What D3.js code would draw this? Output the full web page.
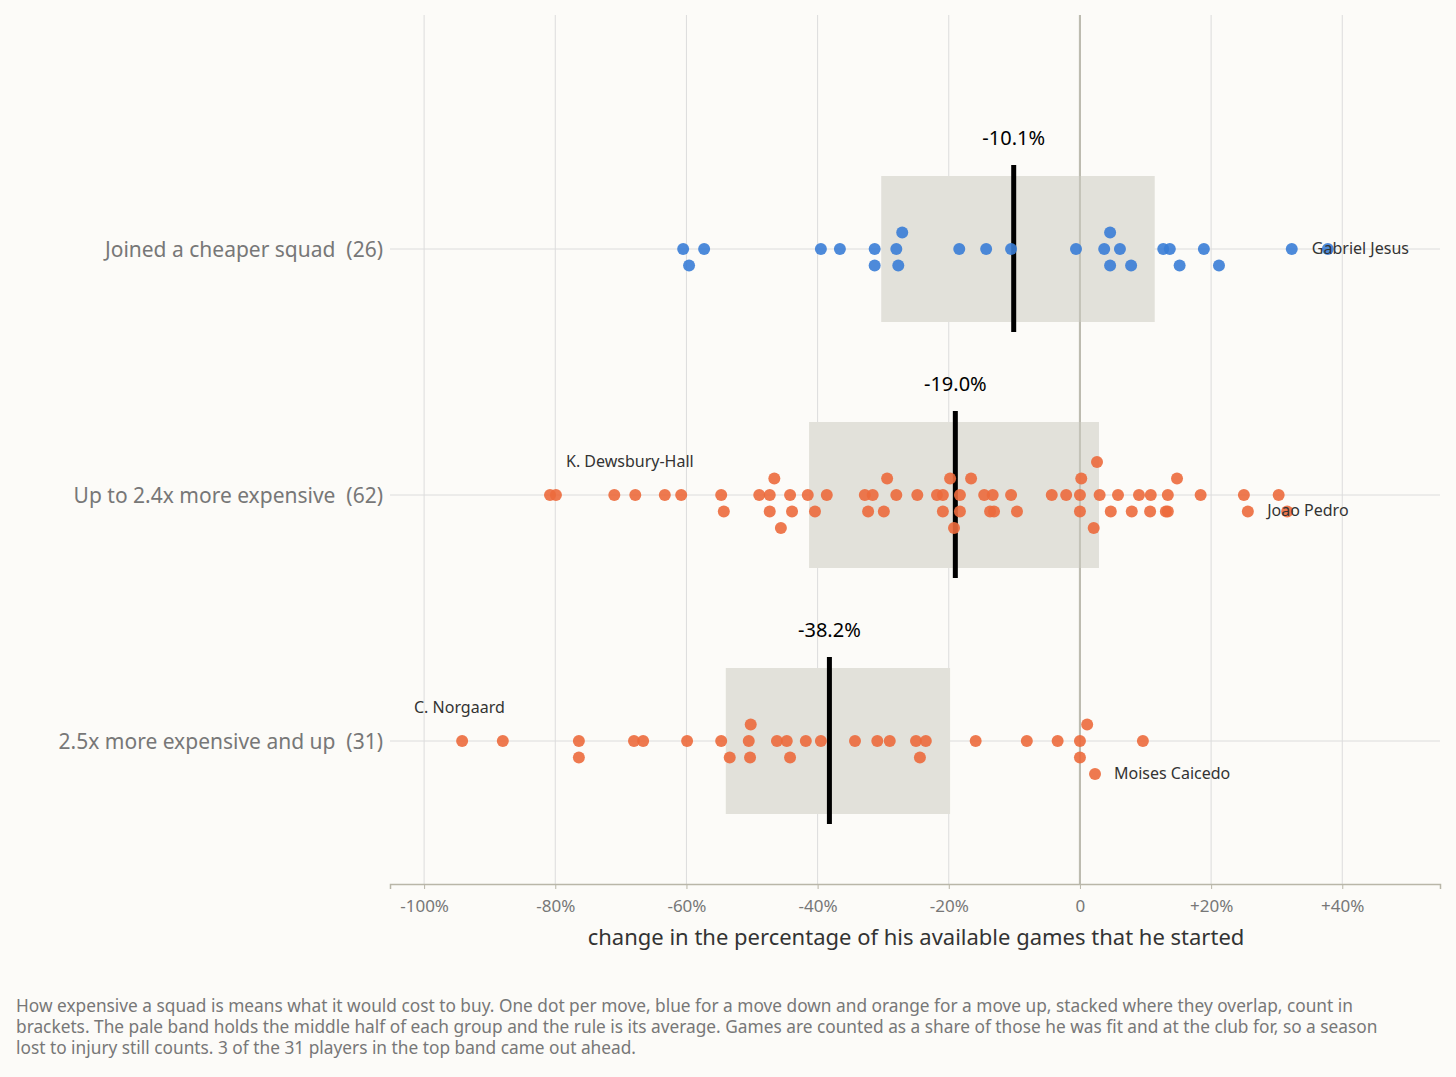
<!DOCTYPE html>
<html><head><meta charset="utf-8">
<script src="https://cdn.jsdelivr.net/npm/d3@7"></script>
<style>body{margin:0;background:#fcfbf8;font-family:"Noto Sans","Open Sans",sans-serif} text{white-space:pre}</style>
</head><body><svg id="c" width="1456" height="1077"></svg>
<script>
const groups = ["Joined a cheaper squad  (26)", "Up to 2.4x more expensive  (62)", "2.5x more expensive and up  (31)"];
const groupColors = ["#3a7dd6", "#ec6a3c", "#ec6a3c"];
const means = [-10.1, -19.0, -38.2];
const q1 = [-30.3, -41.3, -54.0];
const q3 = [11.4, 2.9, -19.8];
// [value, stack lane] : lane 0 on the line, negative above, positive below
const g0 = [[-60.5,0],[-57.3,0],[-39.5,0],[-36.6,0],[-31.3,0],[-28.0,0],[-18.4,0],[-14.3,0],[-10.5,0],[-0.6,0],[3.7,0],[6.1,0],[12.7,0],[13.7,0],[18.9,0],[32.3,0],[37.8,0],
 [-27.1,-1],[4.6,-1],
 [-59.6,1],[-31.3,1],[-27.7,1],[4.6,1],[7.8,1],[15.2,1],[21.2,1]];
const g1 = [[-80.8,0],[-79.9,0],[-71.0,0],[-67.8,0],[-63.3,0],[-60.8,0],[-54.7,0],[-48.9,0],[-47.3,0],[-44.2,0],[-41.5,0],[-38.6,0],[-32.8,0],[-31.6,0],[-28.0,0],[-24.8,0],[-21.8,0],[-20.9,0],[-18.3,0],[-14.6,0],[-13.3,0],[-10.5,0],[-4.3,0],[-2.1,0],[0,0],[3.0,0],[5.8,0],[9.0,0],[10.8,0],[13.4,0],[18.4,0],[25.0,0],[30.3,0],
 [-46.6,-1],[-29.4,-1],[-19.8,-1],[-16.6,-1],[0.2,-1],[14.8,-1],[2.6,-2],
 [-54.3,1],[-47.3,1],[-43.9,1],[-40.4,1],[-32.3,1],[-29.9,1],[-20.9,1],[-18.3,1],[-13.7,1],[-13.1,1],[-9.6,1],[0,1],[4.7,1],[7.9,1],[10.7,1],[13.1,1],[13.4,1],[25.6,1],[31.6,1],
 [-45.6,2],[-19.2,2],[2.1,2]];
const g2 = [[-94.2,0],[-88.0,0],[-76.4,0],[-68.0,0],[-66.6,0],[-59.9,0],[-54.7,0],[-50.5,0],[-46.2,0],[-44.7,0],[-41.8,0],[-39.5,0],[-34.3,0],[-30.9,0],[-29.0,0],[-25.0,0],[-23.5,0],[-15.9,0],[-8.1,0],[-3.4,0],[0,0],[9.6,0],
 [-50.2,-1],[1.1,-1],
 [-76.4,1],[-53.4,1],[-50.3,1],[-44.2,1],[-24.4,1],[0,1],[2.3,2]];
const groupData = [g0, g1, g2];
const names = ["Gabriel Jesus","K. Dewsbury-Hall","Joao Pedro","C. Norgaard","Moises Caicedo"];
const nameGroup = [0,1,1,2,2];
const ticks = [-100,-80,-60,-40,-20,0,20,40];
const tickLabels = ["-100%","-80%","-60%","-40%","-20%","0","+20%","+40%"];

const svg = d3.select("#c");
svg.append("rect").attr("width",1456).attr("height",1077).attr("fill","#fcfbf8");
const x = d3.scaleLinear().domain([-105.2, 54.9]).range([390, 1440]);
const y = d3.scalePoint().domain(d3.range(3)).range([249, 741]);
const lane = 16.5;

svg.append("g").selectAll("line").data(ticks).join("line")
  .attr("x1",d=>x(d)).attr("x2",d=>x(d)).attr("y1",15).attr("y2",884)
  .attr("stroke",d=>d===0?"#bdbcb0":"#dcdcdc").attr("stroke-width",d=>d===0?2:1);
svg.append("g").selectAll("line").data(d3.range(3)).join("line")
  .attr("x1",390).attr("x2",1440).attr("y1",d=>y(d)).attr("y2",d=>y(d)).attr("stroke","#dcdcdc");

svg.append("g").selectAll("rect").data(d3.range(3)).join("rect")
  .attr("x",i=>x(q1[i])).attr("width",i=>x(q3[i])-x(q1[i]))
  .attr("y",i=>y(i)-73).attr("height",146).attr("fill","#e2e1da");
svg.append("line").attr("x1",x(0)).attr("x2",x(0)).attr("y1",15).attr("y2",884).attr("stroke","#bdbcb0").attr("stroke-width",2).attr("opacity",0.8);

svg.append("g").selectAll("line").data(d3.range(3)).join("line")
  .attr("x1",i=>x(means[i])).attr("x2",i=>x(means[i])).attr("y1",i=>y(i)-84).attr("y2",i=>y(i)+83)
  .attr("stroke","#000").attr("stroke-width",5);
svg.append("g").selectAll("text").data(d3.range(3)).join("text")
  .attr("x",i=>x(means[i])).attr("y",i=>y(i)-104).attr("text-anchor","middle")
  .attr("font-size",20).attr("fill","#000").text(i=>means[i].toFixed(1)+"%");

groupData.forEach((arr,i)=>{
  svg.append("g").selectAll("circle").data(arr).join("circle")
    .attr("cx",d=>x(d[0])).attr("cy",d=>y(i)+d[1]*lane).attr("r",6)
    .attr("fill",groupColors[i]).attr("opacity",0.9);
});

// name label anchors: [x, y] in pixel terms relative to group row
const nameX = [x(37.8)-16, 566, x(31.6)-20, 414, x(2.3)+19];
const nameDY = [5, -28, 21, -28, 38];
svg.append("g").selectAll("text").data(names).join("text")
  .attr("x",(d,i)=>nameX[i]).attr("y",(d,i)=>y(nameGroup[i])+nameDY[i])
  .attr("font-size",16).attr("fill","#333").text(d=>d);

svg.append("g").selectAll("text").data(groups).join("text")
  .attr("x",383).attr("y",(d,i)=>y(i)+8).attr("text-anchor","end")
  .attr("font-size",21).attr("fill","#777").text(d=>d);

const ax = svg.append("g").attr("transform","translate(0,884)")
  .call(d3.axisBottom(x).tickValues(ticks).tickFormat((d,i)=>tickLabels[i]).tickSize(5));
ax.select(".domain").attr("stroke","#b9b6a8").attr("stroke-width",1.5);
ax.selectAll(".tick line").attr("stroke","#b9b6a8");
ax.selectAll("text").attr("font-size",17).attr("fill","#777").attr("dy","1.15em").attr("font-family","Noto Sans");
svg.append("text").attr("x",916).attr("y",945).attr("text-anchor","middle").attr("font-size",22).attr("fill","#333")
  .text("change in the percentage of his available games that he started");

const foot = ["How expensive a squad is means what it would cost to buy. One dot per move, blue for a move down and orange for a move up, stacked where they overlap, count in",
"brackets. The pale band holds the middle half of each group and the rule is its average. Games are counted as a share of those he was fit and at the club for, so a season",
"lost to injury still counts. 3 of the 31 players in the top band came out ahead."];
svg.append("g").selectAll("text").data(foot).join("text")
  .attr("x",16).attr("y",(d,i)=>1012+i*21).attr("font-size",17.3).attr("fill","#777").text(d=>d);
</script></body></html>
